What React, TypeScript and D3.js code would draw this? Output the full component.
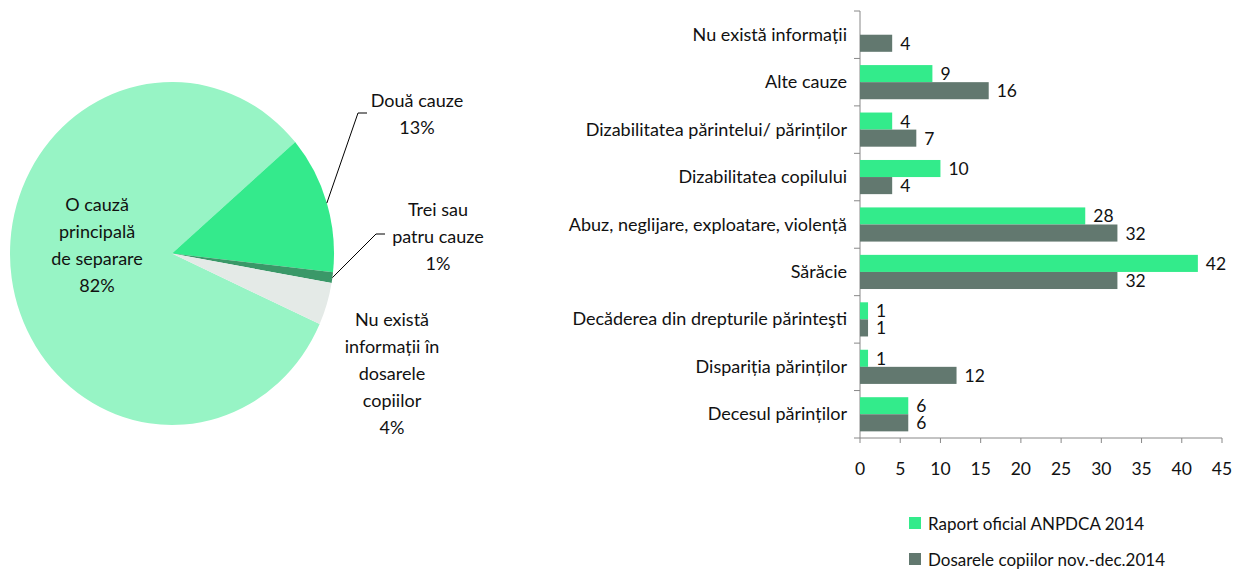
import React from "react";
import * as d3 from "d3";

// Pie: number of separation causes per child file
const pieLabels = [
  "O cauză principală de separare",
  "Două cauze",
  "Trei sau patru cauze",
  "Nu există informații în dosarele copiilor",
];
const pieValues = [82, 13, 1, 4];

// Bars: causes of separation, two sources
const categories = [
  "Nu există informații",
  "Alte cauze",
  "Dizabilitatea părintelui/ părinților",
  "Dizabilitatea copilului",
  "Abuz, neglijare, exploatare, violență",
  "Sărăcie",
  "Decăderea din drepturile părinteşti",
  "Dispariția părinților",
  "Decesul părinților",
];
const seriesNames = ["Raport oficial ANPDCA 2014", "Dosarele copiilor nov.-dec.2014"];
const raportValues = [null, 9, 4, 10, 28, 42, 1, 1, 6];
const dosareValues = [4, 16, 7, 4, 32, 32, 1, 12, 6];
const xTicks = [0, 5, 10, 15, 20, 25, 30, 35, 40, 45];

const FONT = "Lato, 'Open Sans', sans-serif";
const pieColors = ["#97F4C5", "#34EA8C", "#3A9868", "#E4EAE7"];
const seriesColors = ["#33EB8B", "#62786F"];
const axisColor = "#888888";

// Label placement for the pie slices (line breaks, centre x, first line y, leader elbow)
const pieLabelLayout = [
  { lines: ["O cauză", "principală", "de separare", "82%"], x: 97, y: 211, leader: null },
  { lines: ["Două cauze", "13%"], x: 417, y: 107, leader: { x: 367, y: 113 } },
  { lines: ["Trei sau", "patru cauze", "1%"], x: 438, y: 216, leader: { x: 385, y: 234 } },
  { lines: ["Nu există", "informații în", "dosarele", "copiilor", "4%"], x: 392, y: 326, leader: null },
];

export default function App() {
  // ---- pie geometry ----
  const cx = 172;
  const cy = 253.5;
  const r = 162;
  const sy = 171.5 / 162;
  const offset = (-245.7 * Math.PI) / 180;
  const pie = d3
    .pie<number>()
    .sort(null)
    .value((d) => d)
    .startAngle(offset)
    .endAngle(offset + 2 * Math.PI);
  const arcs = pie(pieValues);
  const arc = d3.arc<d3.PieArcDatum<number>>().innerRadius(0).outerRadius(r);

  // ---- bar geometry ----
  const x = d3.scaleLinear().domain([0, 45]).range([860, 1222]);
  const y = d3
    .scaleBand<string>()
    .domain(categories)
    .range([11, 438])
    .paddingInner(0.28)
    .paddingOuter(0.14);
  const sub = d3
    .scaleBand<string>()
    .domain(seriesNames)
    .range([0, y.bandwidth()]);
  const series = [raportValues, dosareValues];
  const step = y.step();
  const top = 11;
  const bottom = 438;

  return (
    <svg
      width={1235}
      height={569}
      style={{ position: "absolute", left: 0, top: 0, background: "#fff" }}
      fontFamily={FONT}
    >
      {/* pie */}
      <g transform={`translate(${cx},${cy}) scale(1,${sy})`}>
        {arcs.map((a, i) => (
          <path key={i} d={arc(a) as string} fill={pieColors[i]} />
        ))}
      </g>
      {arcs.map((a, i) => {
        const L = pieLabelLayout[i];
        if (!L.leader) return null;
        const mid = (a.startAngle + a.endAngle) / 2;
        const ex = cx + r * Math.sin(mid);
        const ey = cy - r * sy * Math.cos(mid);
        return (
          <polyline
            key={i}
            points={`${L.leader.x},${L.leader.y} ${L.leader.x - 9},${L.leader.y} ${ex},${ey}`}
            fill="none"
            stroke="#000"
            strokeWidth={1}
          />
        );
      })}
      {pieLabelLayout.map((L, i) => (
        <text key={i} textAnchor="middle" fontSize={18} fill="#111">
          {L.lines.map((ln, j) => (
            <tspan key={j} x={L.x} y={L.y + j * 27}>
              {ln}
            </tspan>
          ))}
        </text>
      ))}

      {/* bar chart axes */}
      <line x1={x(0)} x2={x(0)} y1={top} y2={bottom} stroke={axisColor} />
      {d3.range(categories.length + 1).map((i) => (
        <line
          key={i}
          x1={x(0) - 6}
          x2={x(0)}
          y1={top + i * step}
          y2={top + i * step}
          stroke={axisColor}
        />
      ))}
      <line x1={x(0)} x2={x(45)} y1={bottom} y2={bottom} stroke={axisColor} />
      {xTicks.map((t) => (
        <g key={t}>
          <line x1={x(t)} x2={x(t)} y1={bottom} y2={bottom + 5} stroke={axisColor} />
          <text x={x(t)} y={475} textAnchor="middle" fontSize={17.5} fill="#111">
            {t}
          </text>
        </g>
      ))}

      {/* category labels */}
      {categories.map((c) => (
        <text
          key={c}
          x={847}
          y={(y(c) as number) + y.bandwidth() / 2 + 6}
          textAnchor="end"
          fontSize={18}
          fill="#111"
        >
          {c}
        </text>
      ))}

      {/* bars and value labels */}
      {series.map((vals, s) =>
        vals.map((v, i) => {
          if (v == null) return null;
          const by = (y(categories[i]) as number) + (sub(seriesNames[s]) as number);
          const bh = sub.bandwidth();
          return (
            <g key={`${s}-${i}`}>
              <rect x={x(0)} y={by} width={x(v) - x(0)} height={bh} fill={seriesColors[s]} />
              <text x={x(v) + 8} y={by + bh / 2 + 6.5} fontSize={17.5} fill="#111">
                {v}
              </text>
            </g>
          );
        })
      )}

      {/* legend */}
      {seriesNames.map((n, i) => (
        <g key={n}>
          <rect x={909} y={517 + i * 36} width={12} height={12} fill={seriesColors[i]} />
          <text x={928} y={530 + i * 36} fontSize={17} fill="#111">
            {n}
          </text>
        </g>
      ))}
    </svg>
  );
}
